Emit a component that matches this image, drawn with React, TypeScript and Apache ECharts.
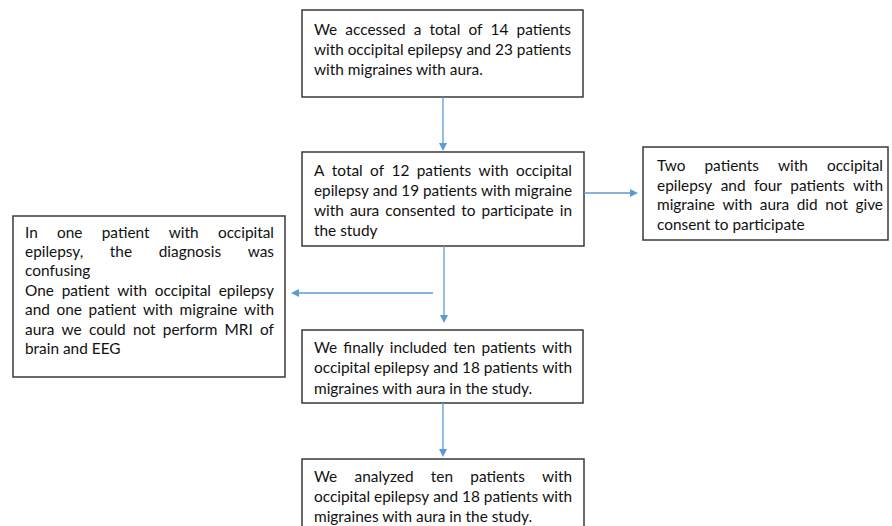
import React, { useEffect, useRef } from "react";
import * as echarts from "echarts";

// ---- Flowchart content (text of each box, line by line; true = justified line) ----
const box1Lines: [string, boolean][] = [
  ["We accessed a total of 14 patients", true],
  ["with occipital epilepsy and 23 patients", true],
  ["with migraines with aura.", false],
];
const box2Lines: [string, boolean][] = [
  ["A total of 12 patients with occipital", true],
  ["epilepsy and 19 patients with migraine", true],
  ["with aura consented to participate in", true],
  ["the study", false],
];
const box3Lines: [string, boolean][] = [
  ["Two patients with occipital", true],
  ["epilepsy and four patients with", true],
  ["migraine with aura did not give", true],
  ["consent to participate", false],
];
const box4Lines: [string, boolean][] = [
  ["In one patient with occipital", true],
  ["epilepsy, the diagnosis was", true],
  ["confusing", false],
  ["One patient with occipital epilepsy", true],
  ["and one patient with migraine with", true],
  ["aura we could not perform MRI of", true],
  ["brain and EEG", false],
];
const box5Lines: [string, boolean][] = [
  ["We finally included ten patients with", true],
  ["occipital epilepsy and 18 patients with", true],
  ["migraines with aura in the study.", false],
];
const box6Lines: [string, boolean][] = [
  ["We analyzed ten patients with", true],
  ["occipital epilepsy and 18 patients with", true],
  ["migraines with aura in the study.", false],
];

const FONT_FAMILY = "Lato";
const FONT_SIZE = 15.4;
const TEXT_COLOR = "#111111";
const BORDER_COLOR = "#3a3a3a";
const ARROW_COLOR = "#5b9bd5";

export default function App() {
  const ref = useRef<HTMLDivElement>(null);

  useEffect(() => {
    if (!ref.current) return;
    const chart = echarts.init(ref.current, undefined, { renderer: "svg" });

    const canvas = document.createElement("canvas");
    const ctx = canvas.getContext("2d")!;
    ctx.font = `${FONT_SIZE}px ${FONT_FAMILY}`;
    const measure = (s: string) => ctx.measureText(s).width;

    const textEl = (text: string, x: number, y: number, sx: number) => ({
      type: "text",
      x,
      y,
      scaleX: sx,
      silent: true,
      style: {
        text,
        x: 0,
        y: 0,
        fontSize: FONT_SIZE,
        fontFamily: FONT_FAMILY,
        fill: TEXT_COLOR,
        align: "left",
        verticalAlign: "middle",
      },
    });

    const buildText = (
      lines: [string, boolean][],
      left: number,
      right: number,
      firstY: number,
      gapY: number
    ) => {
      const els: any[] = [];
      const W = right - left;
      const space = measure(" ");
      lines.forEach(([t, justify], i) => {
        const y = firstY + i * gapY;
        const words = t.split(" ");
        const widths = words.map(measure);
        const sum = widths.reduce((a, b) => a + b, 0);
        const natural = sum + space * (words.length - 1);
        const scale = natural > W ? W / natural : 1;
        if (justify && words.length > 1) {
          const gap = (W - sum * scale) / (words.length - 1);
          let x = left;
          words.forEach((w, k) => {
            els.push(textEl(w, x, y, scale));
            x += widths[k] * scale + gap;
          });
        } else {
          els.push(textEl(t, left, y, scale));
        }
      });
      return els;
    };

    const rect = (x: number, y: number, w: number, h: number) => ({
      type: "rect",
      silent: true,
      shape: { x, y, width: w, height: h },
      style: { fill: "#ffffff", stroke: BORDER_COLOR, lineWidth: 1.5 },
    });

    const arrow = (x1: number, y1: number, x2: number, y2: number) => {
      const dx = x2 - x1;
      const dy = y2 - y1;
      const len = Math.sqrt(dx * dx + dy * dy);
      const ux = dx / len;
      const uy = dy / len;
      const hl = 8;
      const hw = 4;
      const bx = x2 - ux * hl;
      const by = y2 - uy * hl;
      return [
        {
          type: "line",
          silent: true,
          shape: { x1, y1, x2: bx, y2: by },
          style: { stroke: ARROW_COLOR, lineWidth: 1.3 },
        },
        {
          type: "polygon",
          silent: true,
          shape: {
            points: [
              [x2, y2],
              [bx - uy * hw, by + ux * hw],
              [bx + uy * hw, by - ux * hw],
            ],
          },
          style: { fill: ARROW_COLOR },
        },
      ];
    };

    const elements: any[] = [
      rect(302, 10, 281, 87),
      rect(302, 152, 282, 94),
      rect(643, 147, 245, 93),
      rect(13, 216, 272, 161),
      rect(302, 330, 281, 73),
      rect(302, 459, 282, 90),
      ...arrow(443, 97, 443, 151),
      ...arrow(584, 193, 638, 193),
      ...arrow(433, 293, 291, 293),
      ...arrow(444, 246, 444, 323),
      ...arrow(443, 403, 443, 457),
      ...buildText(box1Lines, 314, 571, 28.5, 20),
      ...buildText(box2Lines, 314, 572, 169.5, 20),
      ...buildText(box3Lines, 657, 883, 165, 19.5),
      ...buildText(box4Lines, 25, 274, 231.5, 19.4),
      ...buildText(box5Lines, 314, 572, 347, 20.3),
      ...buildText(box6Lines, 314, 572, 476, 20),
    ];

    chart.setOption({
      animation: false,
      backgroundColor: "#ffffff",
      graphic: { elements },
    });

    return () => chart.dispose();
  }, []);

  return (
    <div
      ref={ref}
      style={{ position: "fixed", left: 0, top: 0, width: 892, height: 526 }}
    />
  );
}
